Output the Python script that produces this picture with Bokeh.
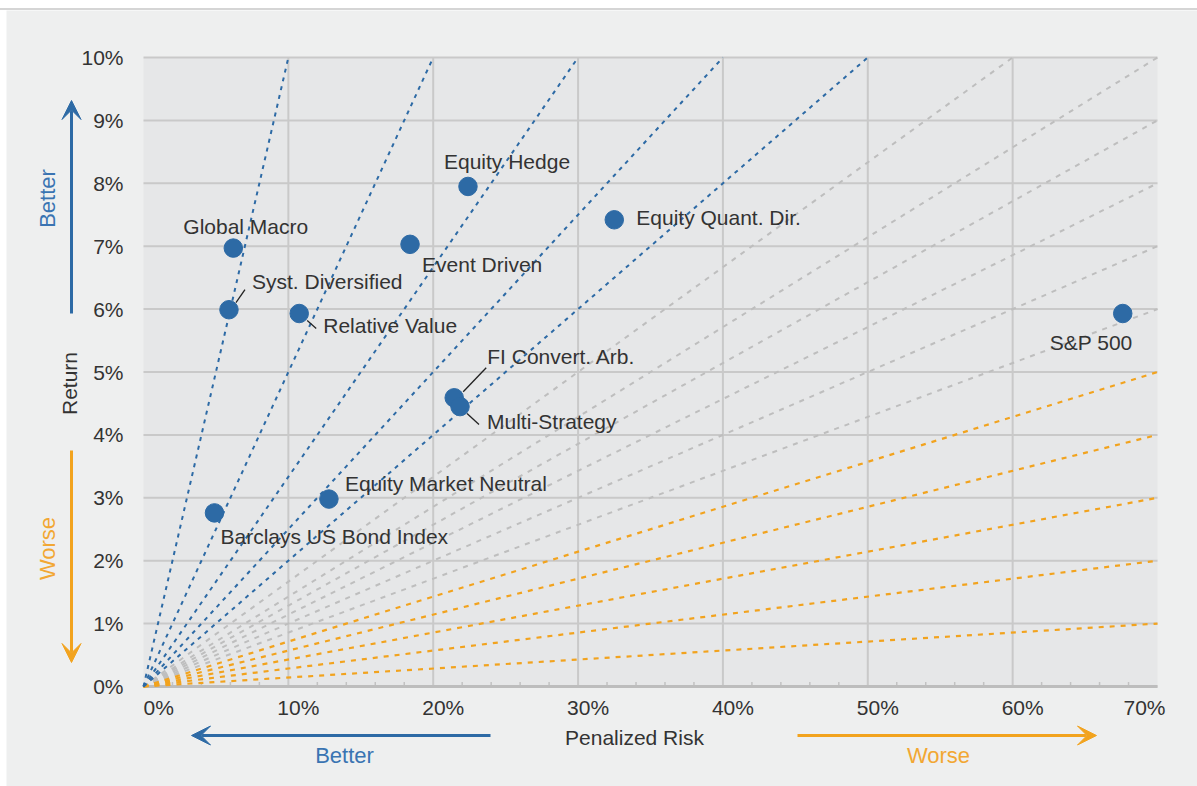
from bokeh.plotting import figure
from bokeh.models import Range1d, ColumnDataSource, Arrow, VeeHead, Div, Spacer
from bokeh.layouts import column, row
from bokeh.core.properties import value
from bokeh.embed import file_html
from bokeh.resources import INLINE
from math import pi

# ---- data: annualised return vs. penalized risk (percent) ----
names = ["Equity Hedge", "Equity Quant. Dir.", "Global Macro", "Event Driven",
         "Syst. Diversified", "Relative Value", "S&P 500", "FI Convert. Arb.",
         "Multi-Strategy", "Equity Market Neutral", "Barclays US Bond Index"]
risk = [22.4, 32.5, 6.2, 18.4, 5.9, 10.75, 67.6, 21.45, 21.85, 12.8, 4.9]
ret = [7.95, 7.42, 6.97, 7.03, 5.99, 5.93, 5.93, 4.59, 4.45, 2.98, 2.76]

# label placement in pixels relative to each marker (left edge, vertical middle)
label_dx = [-24, 22, -50, 12, 23, 24, -73, 33, 27, 16, 6]
label_dy = [-25, -2, -22, 20, -28, 12, 29, -41, 15, -16, 24]

# constant return/risk reference lines, drawn from the origin to these end points
blue_end_risk = [10, 20, 30, 40, 50]
blue_end_ret = [10, 10, 10, 10, 10]
gray_end_risk = [60, 70, 70, 70, 70, 70]
gray_end_ret = [10, 10, 9, 8, 7, 6]
orange_end_risk = [70, 70, 70, 70, 70]
orange_end_ret = [5, 4, 3, 2, 1]

x_ticks = [0, 10, 20, 30, 40, 50, 60, 70]
x_tick_labels = ["0%", "10%", "20%", "30%", "40%", "50%", "60%", "70%"]
y_ticks = [0, 1, 2, 3, 4, 5, 6, 7, 8, 9, 10]
y_tick_labels = ["0%", "1%", "2%", "3%", "4%", "5%", "6%", "7%", "8%", "9%", "10%"]

# ---- layout constants ----
X_MAX, Y_MAX = 70, 10
FRAME_W, FRAME_H = 1014, 629          # size of the data area in pixels
LEFT, RIGHT, TOP, BOTTOM = 137, 40, 47, 100
PW, PH = LEFT + FRAME_W + RIGHT, TOP + FRAME_H + BOTTOM
SX = FRAME_W / X_MAX   # pixels per risk unit
SY = FRAME_H / Y_MAX   # pixels per return unit


def dx(px):
    return px / SX


def dy(py):
    # screen pixels (downward) -> data units
    return -py / SY


BLUE = "#2D6AA5"
ORANGE = "#F2A31E"
GRAY = "#BEBEBE"
GRID = "#C9C9C9"
TEXT = "#333333"
FONT = value("Liberation Sans")

# the figure's frame covers the whole canvas; the data area sits inside it
p = figure(width=PW, height=PH,
           x_range=Range1d(-LEFT / SX, X_MAX + RIGHT / SX),
           y_range=Range1d(-BOTTOM / SY, Y_MAX + TOP / SY),
           x_axis_type=None, y_axis_type=None,
           output_backend="svg", toolbar_location=None,
           min_border=0, background_fill_color="#EEEFEF",
           border_fill_color="#EEEFEF", outline_line_color=None)
p.xgrid.visible = False
p.ygrid.visible = False

# data area background
p.quad(left=0, right=X_MAX, bottom=0, top=Y_MAX, fill_color="#E6E7E8", line_color=None)

# grid lines
gx = [t for t in x_ticks if 0 < t < X_MAX]
p.segment(x0=gx, y0=0, x1=gx, y1=Y_MAX, line_color=GRID, line_width=2)
p.segment(x0=0, y0=y_ticks, x1=X_MAX, y1=y_ticks, line_color=GRID, line_width=2)

# x axis line and small inward ticks every 2%
minor = [t for t in range(0, X_MAX + 1, 2) if t % 10]
p.segment(x0=minor, y0=0, x1=minor, y1=dy(-4.5), line_color="#C2C2C2", line_width=1.5)
p.segment(x0=0, y0=0, x1=X_MAX, y1=0, line_color="#BDBDBD", line_width=3)

# reference lines
p.segment(x0=0, y0=0, x1=gray_end_risk, y1=gray_end_ret,
          line_color=GRAY, line_width=2, line_dash="5 6")
p.segment(x0=0, y0=0, x1=orange_end_risk, y1=orange_end_ret,
          line_color=ORANGE, line_width=2.2, line_dash="5 6")
p.segment(x0=0, y0=0, x1=blue_end_risk, y1=blue_end_ret,
          line_color=BLUE, line_width=2, line_dash="4 5")

src = ColumnDataSource(dict(x=risk, y=ret, name=names, dx=label_dx, dy=label_dy))

# leader lines for crowded labels (pixel offsets from the marker)
leaders = {
    "Syst. Diversified": (7, -7, 16, -20),
    "Relative Value": (8, 7, 17, 15),
    "FI Convert. Arb.": (9, -6, 32, -30),
    "Multi-Strategy": (7, 7, 19, 18),
}
lx0, ly0, lx1, ly1 = [], [], [], []
for n, (a, b, c, d) in leaders.items():
    i = names.index(n)
    lx0.append(risk[i] + dx(a)); ly0.append(ret[i] + dy(b))
    lx1.append(risk[i] + dx(c)); ly1.append(ret[i] + dy(d))
p.segment(x0=lx0, y0=ly0, x1=lx1, y1=ly1, line_color="#222222", line_width=1.3)

p.scatter("x", "y", source=src, size=18.5, fill_color=BLUE, line_color=BLUE)
p.text("x", "y", text="name", source=src, x_offset="dx", y_offset="dy",
       text_font=FONT, text_font_size="21px", text_color=TEXT,
       text_align="left", text_baseline="middle")

# tick labels
p.text(x=[0] * len(y_ticks), y=y_ticks, text=y_tick_labels, x_offset=-20,
       text_font=FONT, text_font_size="21px", text_color=TEXT,
       text_align="right", text_baseline="middle")
x_align = ["left"] + ["center"] * (len(x_ticks) - 2) + ["right"]
x_shift = [0] + [10] * (len(x_ticks) - 2) + [8]
p.text(x=x_ticks, y=[0] * len(x_ticks), text=x_tick_labels, x_offset=x_shift,
       y_offset=21, text_align=x_align, text_font=FONT, text_font_size="21px",
       text_color=TEXT, text_baseline="middle")

# axis titles
p.text(x=[dx(491)], y=[0], text=["Penalized Risk"], y_offset=51,
       text_align="center", text_baseline="middle", text_font=FONT,
       text_font_size="21px", text_color=TEXT)
p.text(x=[0], y=[dy(-303)], text=["Return"], x_offset=-74, angle=pi / 2,
       text_align="center", text_baseline="middle", text_font=FONT,
       text_font_size="21px", text_color=TEXT)


# direction arrows and captions
def arrow(x0, y0, x1, y1, color):
    p.add_layout(Arrow(end=VeeHead(size=19, fill_color=color, line_color=color),
                       x_start=x0, y_start=y0, x_end=x1, y_end=y1,
                       line_color=color, line_width=3))


arrow(dx(-72), dy(-373), dx(-72), dy(-586), BLUE)
arrow(dx(-72), dy(-236), dx(-72), dy(-24), ORANGE)
arrow(dx(347), dy(49), dx(48), dy(49), BLUE)
arrow(dx(654), dy(49), dx(953), dy(49), ORANGE)

cap = dict(text_align="center", text_baseline="middle", text_font=FONT,
           text_font_size="22px")
p.text(x=[dx(-96), dx(-96)], y=[dy(-488), dy(-138)], text=["Better", "Worse"],
       angle=pi / 2, text_color=["#3A74B2", "#F2A733"], **cap)
p.text(x=[dx(201), dx(795)], y=[dy(69), dy(69)], text=["Better", "Worse"],
       text_color=["#3A74B2", "#F2A733"], **cap)

top = Div(text="", width=1197, height=8, margin=0)
rule = Div(text="", width=1197, height=2, margin=0,
           styles={"background-color": "#D5D5D5"})
page = column(top, rule, row(Spacer(width=6, height=PH), p), spacing=0)

open("out.html", "w").write(file_html(page, INLINE))
